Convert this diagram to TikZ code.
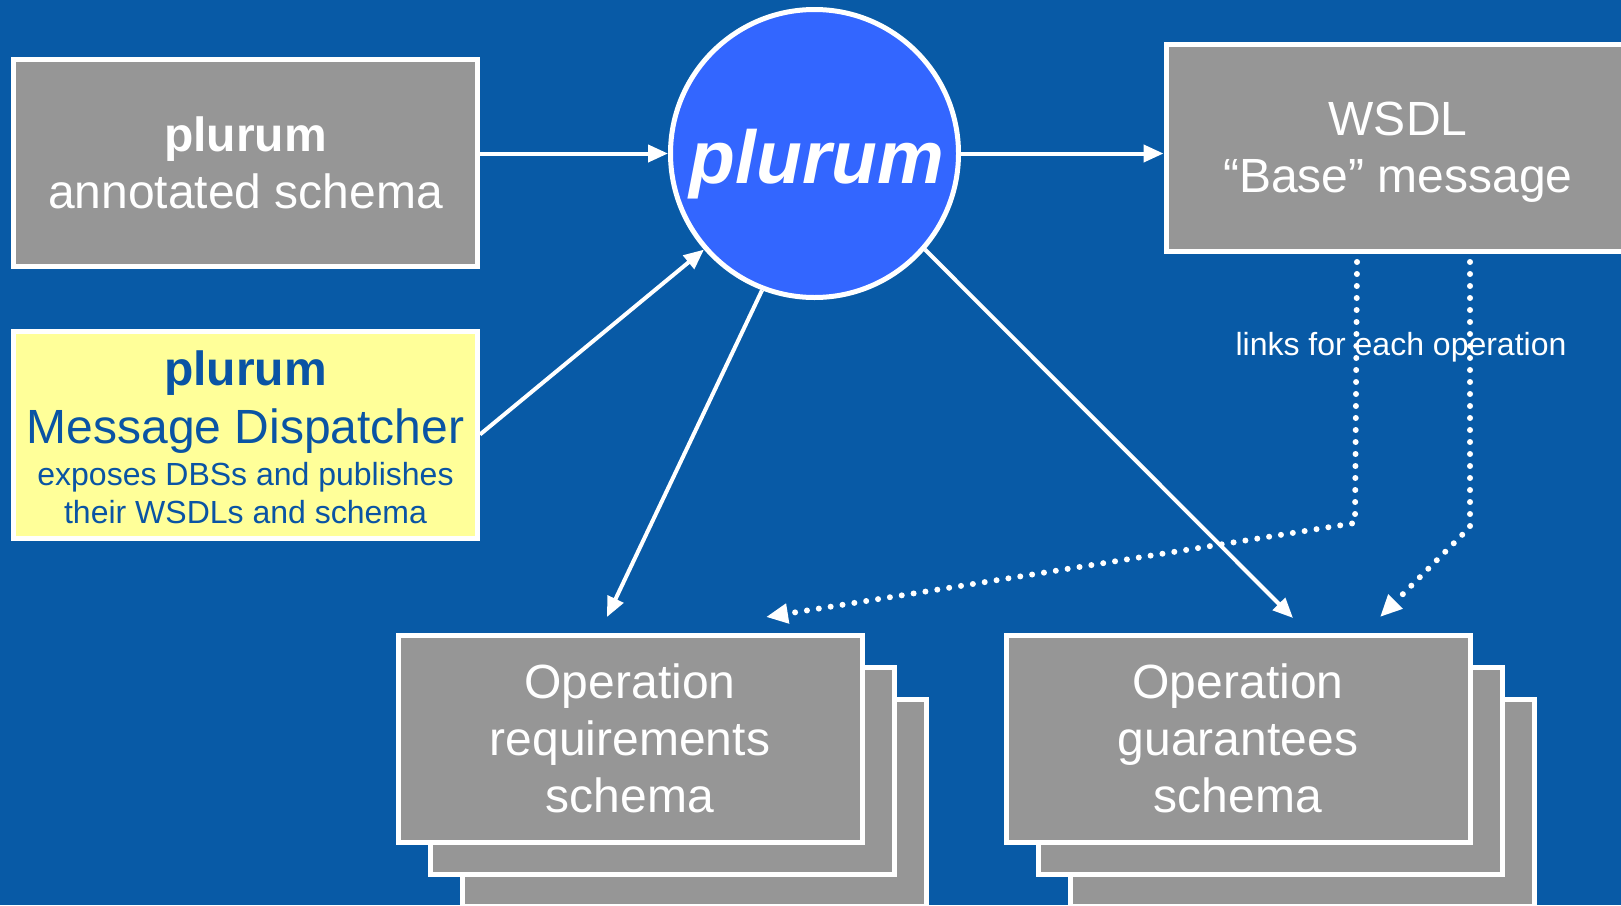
\documentclass[tikz,border=0pt]{standalone}
\usepackage{fontspec}
\setmainfont{Liberation Sans}
\usetikzlibrary{arrows.meta}
\definecolor{bg}{RGB}{8,90,166}
\definecolor{boxgray}{RGB}{150,150,150}
\definecolor{circblue}{RGB}{51,102,255}
\definecolor{paleyellow}{RGB}{255,255,153}
\definecolor{darktext}{RGB}{10,84,164}
\begin{document}
\begin{tikzpicture}[x=1pt,y=-1pt,
  box/.style={draw=white, line width=5pt, fill=boxgray, minimum width=464pt, minimum height=207pt,
    inner sep=0pt, text=white, align=center, text depth=0pt, font=\fontsize{48}{57}\selectfont},
  ybox/.style={box, fill=paleyellow},
  ytext/.style={text=darktext, inner sep=0pt, anchor=base},
  conn/.style={draw=white, line width=4pt, -{Triangle[length=20pt,width=17pt]}},
  dotconn/.style={draw=white, line width=6pt, line cap=round, dash pattern=on 0pt off 12pt,
    -{Triangle[length=22pt,width=19pt]}},
  hub/.style={circle, draw=white, line width=5pt, fill=circblue, minimum size=288pt, inner sep=0pt}
  ]
\clip (0,0) rectangle (1621,905);
\fill[bg] (0,0) rectangle (1621,905);

% left boxes
\node[box] (ann) at (245.5,163) {\textbf{plurum}\\annotated schema};
\node[ybox] (disp) at (245.5,434.5) {};
\node[ytext, font=\fontsize{48}{57}\selectfont\bfseries] (d1) at (245.5,385) {plurum};
\node[ytext, font=\fontsize{48}{57}\selectfont] (d2) at (245.5,443) {Message Dispatcher};
\node[ytext, font=\fontsize{32}{38}\selectfont] (d3) at (245.5,485) {exposes DBSs and publishes};
\node[ytext, font=\fontsize{32}{38}\selectfont] (d4) at (245.5,523) {their WSDLs and schema};

% hub
\node[hub] (P) at (814.5,153.5) {};
\node[text=white, inner sep=0pt, anchor=base, font=\fontsize{75}{90}\selectfont\bfseries\itshape] (Pt) at (817,183) {plurum};

% WSDL box
\node[box] (wsdl) at (1398,147.5) {WSDL\\“Base” message};

% operation stacks
\node[box] (req3) at (694,802.5) {};
\node[box] (req2) at (662,770.5) {};
\node[box] (req) at (630,738.5) {Operation\\requirements\\schema};
\node[box] (guar3) at (1302,802.5) {};
\node[box] (guar2) at (1270,770.5) {};
\node[box] (guar) at (1238,738.5) {Operation\\guarantees\\schema};

% connector end points
\coordinate (reqin) at (607,617);
\coordinate (guarin) at (1293,618);
\coordinate (dotA) at (766,617);
\coordinate (dotB) at (1380,617);
\coordinate (wa1) at (1357,262);
\coordinate (wa2) at (1355,523);
\coordinate (wb1) at (1470,262);
\coordinate (wb2) at (1470,527);

% solid connectors
\draw[conn] (P -| ann.east) -- (P.west);
\draw[conn] (P.east) -- (P -| wsdl.west);
\draw[conn] (disp.east) -- (P.221);
\draw[conn] (P.249) -- (reqin);
\draw[conn] (P.319) -- (guarin);

% label and dotted links
\node[text=white, inner sep=0pt, anchor=base, font=\fontsize{32}{38}\selectfont] (lbl) at (1401,355) {links for each operation};
\draw[dotconn] (wa1) -- (wa2) -- (dotA);
\draw[dotconn] (wb1) -- (wb2) -- (dotB);
\end{tikzpicture}
\end{document}
